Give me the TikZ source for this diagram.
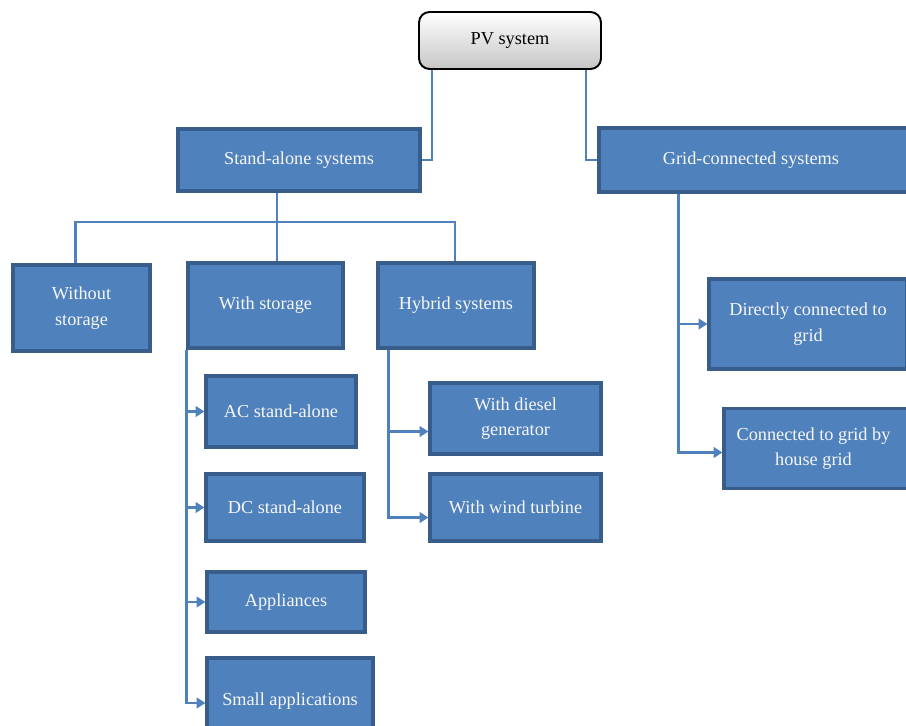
\documentclass[tikz,border=0pt]{standalone}
\usepackage{fontspec}
\setmainfont{Liberation Serif}
\usetikzlibrary{calc,arrows.meta}
\definecolor{boxblue}{RGB}{79,129,189}
\definecolor{boxedge}{RGB}{56,93,138}

\begin{document}
\begin{tikzpicture}[x=0.02cm,y=-0.02cm,
  boxsize/.style 2 args={minimum width=#1cm,minimum height=#2cm},
  box/.style={draw=boxedge,fill=boxblue,line width=1.8pt,text=white!94!gray,align=center,inner sep=0pt,font=\fontsize{10.4}{14.5}\selectfont},
  topbox/.style={draw=black,rounded corners=6pt,top color=white,bottom color=gray!45,line width=1.1pt,inner sep=0pt,font=\fontsize{10.4}{14.5}\selectfont},
  link/.style={draw=boxblue,line width=1.4pt},
  arrow/.style={link,-{Triangle[length=5pt,width=6pt]}}]
\useasboundingbox (0,0) rectangle (906,726);
\clip (0,0) rectangle (906,726);

\node[topbox,boxsize={3.64}{1.14}] (pv) at (510,40.5) {PV system};
\node[box,boxsize={4.84}{1.24}] (stand) at (299,160) {Stand-alone systems};
\node[box,boxsize={6.18}{1.28}] (grid) at (753.5,160) {\hspace*{-0.1cm}Grid-connected systems};

\node[box,boxsize={2.74}{1.72}] (without) at (81.5,308) {Without\\storage};
\node[box,boxsize={3.10}{1.70}] (withst) at (265.5,305.5) {With storage};
\node[box,boxsize={3.12}{1.70}] (hybrid) at (456,305.5) {Hybrid systems};

\node[box,boxsize={3.00}{1.42}] (ac) at (281,411.5) {AC stand-alone};
\node[box,boxsize={3.16}{1.34}] (dc) at (285,507.5) {DC stand-alone};
\node[box,boxsize={3.16}{1.20}] (appl) at (286,602) {Appliances};
\node[box,boxsize={3.32}{1.80}] (small) at (290,703) {\raisebox{0.16cm}{Small applications}};

\node[box,boxsize={3.42}{1.42}] (diesel) at (515.5,418.5) {With diesel\\generator};
\node[box,boxsize={3.42}{1.34}] (wind) at (515.5,507.5) {With wind turbine};

\node[box,boxsize={3.96}{1.80}] (direct) at (808,324) {Directly connected to\\grid};
\node[box,boxsize={3.68}{1.60}] (house) at (816,448.5) {\hspace*{-0.1cm}Connected to grid by\\\hspace*{-0.1cm}house grid};

\draw[link] ($(pv.south west)+(14,0)$) |- (stand.east);
\draw[link] ($(pv.south east)+(-16,0)$) |- (grid.west);

\coordinate (bus) at (277,222);
\draw[link] ($(stand.south)+(-22,0)$) -- (bus);
\draw[link] (bus) -| ($(without.north)+(-6,0)$);
\draw[link] (bus) -| ($(hybrid.north)+(-1,0)$);
\draw[link] (bus) -- (bus |- withst.north);

\draw[arrow] (withst.south west) |- (ac.west);
\draw[arrow] (withst.south west) |- (dc.west);
\draw[arrow] (withst.south west) |- (appl.west);
\draw[arrow] (withst.south west) |- (small.west);

\draw[arrow] ($(hybrid.south west)+(12,0)$) |- ($(diesel.west)+(0,13)$);
\draw[arrow] ($(hybrid.south west)+(12,0)$) |- ($(wind.west)+(0,10)$);

\draw[arrow] ($(grid.south west)+(81,0)$) |- (direct.west);
\draw[arrow] ($(grid.south west)+(81,0)$) |- ($(house.west)+(0,4)$);
\end{tikzpicture}
\end{document}
